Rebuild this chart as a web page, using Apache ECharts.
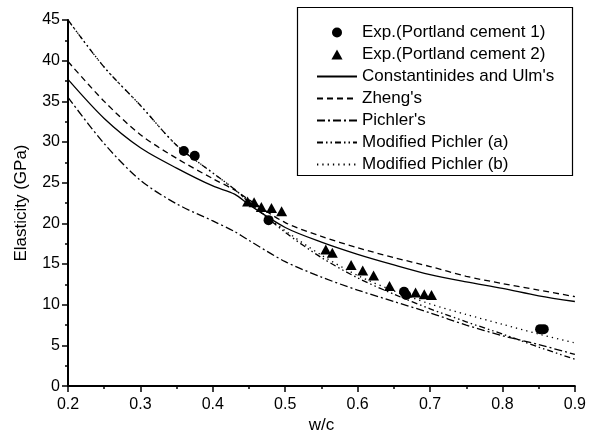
<!DOCTYPE html>
<html>
<head>
<meta charset="utf-8">
<script src="https://cdn.jsdelivr.net/npm/echarts@6/dist/echarts.min.js"></script>
<style>
html,body{margin:0;padding:0;background:#fff}
#main{width:589px;height:439px}
</style>
</head>
<body>
<div id="main"></div>
<script>
//横轴 w/c 取值（各模型曲线共用）
var wc = [0.2,0.25,0.3,0.35,0.4,0.43,0.45,0.5,0.55,0.6,0.65,0.7,0.75,0.8,0.85,0.9];
//模型曲线
var constUlm = [37.7,32.9,29.3,26.8,24.6,23.6,22.3,19.5,17.7,16.2,14.9,13.7,12.8,12.0,11.1,10.4];
var zheng    = [39.9,35.0,30.9,28.0,25.5,24.1,22.9,20.1,18.4,17.0,15.8,14.7,13.5,12.6,11.8,11.0];
var pichler  = [35.5,29.8,25.3,22.4,20.3,19.0,17.9,15.3,13.4,11.8,10.4,9.0,7.5,6.2,5.1,3.9];
var modA     = [45.0,39.2,34.5,29.6,26.2,24.2,22.6,18.9,15.8,13.3,11.3,9.5,7.9,6.4,4.8,3.3];
var modB     = [45.0,39.2,34.5,29.6,26.2,24.2,22.6,19.1,16.1,13.6,11.7,10.1,8.8,7.6,6.4,5.3];
//实验点
var exp1 = [[0.36,28.9],[0.375,28.3],[0.477,20.4],[0.664,11.6],[0.667,11.2],[0.852,7.0],[0.857,7.0]];
var exp2 = [[0.448,22.7],[0.457,22.6],[0.467,22.0],[0.481,21.9],[0.495,21.5],[0.556,16.8],[0.565,16.4],
            [0.591,14.9],[0.607,14.2],[0.622,13.6],[0.644,12.3],[0.668,11.5],[0.680,11.5],[0.692,11.3],[0.702,11.2]];
var names = ['Exp.(Portland cement 1)','Exp.(Portland cement 2)',"Constantinides and Ulm's","Zheng's","Pichler's",'Modified Pichler (a)','Modified Pichler (b)'];

var font = 'Liberation Sans';
function pts(ys){
	return wc.map(function(x,i){ return [x,ys[i]] });
}
function curve(name,ys,dash){
	return {
		name:name,
		type:'line',
		data:pts(ys),
		symbol:'none',
		smooth:0.3,
		itemStyle:{color:'#000'},
		lineStyle:{color:'#000',width:1.3,type:dash}
	}
}
//图例项：曲线只显示线型，三角形用固定比例的路径
var legendData = names.map(function(n,i){
	if(i==0) return {name:n};
	if(i==1) return {name:n,icon:'path://M5,0L10,9L0,9Z'};
	return {name:n,itemStyle:{opacity:0}};
});

var chart = echarts.init(document.getElementById('main'),null,{renderer:'canvas'});
chart.setOption({
	animation:false,
	backgroundColor:'#fff',
	textStyle:{fontFamily:font,color:'#000'},
	grid:{left:68,right:12,top:20,bottom:42},
	xAxis:{
		type:'value',min:0.2,max:0.9,interval:0.1,
		name:'w/c',nameLocation:'middle',nameGap:22,
		nameTextStyle:{fontSize:17,color:'#000',fontFamily:font},
		axisLine:{lineStyle:{color:'#000',width:2}},
		axisTick:{length:6,lineStyle:{color:'#000',width:1.5}},
		minorTick:{show:true,splitNumber:2,length:3,lineStyle:{color:'#000',width:1.5}},
		splitLine:{show:false},
		axisLabel:{fontSize:16,color:'#000',margin:10,fontFamily:font,formatter:function(v){return v.toFixed(1)}}
	},
	yAxis:{
		type:'value',min:0,max:45,interval:5,
		name:'Elasticity (GPa)',nameLocation:'middle',nameGap:38,
		nameTextStyle:{fontSize:17,color:'#000',fontFamily:font},
		axisLine:{show:true,lineStyle:{color:'#000',width:2}},
		axisTick:{show:true,length:6,lineStyle:{color:'#000',width:1.5}},
		minorTick:{show:true,splitNumber:2,length:3,lineStyle:{color:'#000',width:1.5}},
		splitLine:{show:false},
		axisLabel:{fontSize:16,color:'#000',margin:8,fontFamily:font}
	},
	legend:{
		orient:'vertical',left:316,top:24,padding:0,
		itemWidth:40,itemHeight:10,itemGap:5,
		symbolKeepAspect:true,
		textStyle:{fontSize:17,color:'#000',fontFamily:font},
		data:legendData
	},
	graphic:[{  //图例外框
		type:'rect',
		shape:{x:297.5,y:7.5,width:275,height:168},
		style:{fill:null,stroke:'#000',lineWidth:1.2},
		z:100
	}],
	series:[{
		name:names[0],type:'scatter',data:exp1,
		symbol:'circle',symbolSize:10,itemStyle:{color:'#000',opacity:1}
	},{
		name:names[1],type:'scatter',data:exp2,
		symbol:'triangle',symbolSize:[11,10],itemStyle:{color:'#000',opacity:1}
	},
	curve(names[2],constUlm,'solid'),
	curve(names[3],zheng,[6,4]),
	curve(names[4],pichler,[8,3,2,3]),
	curve(names[5],modA,[6,3,1.5,3,1.5,3]),
	curve(names[6],modB,[1.3,4])
	]
});
</script>
</body>
</html>
